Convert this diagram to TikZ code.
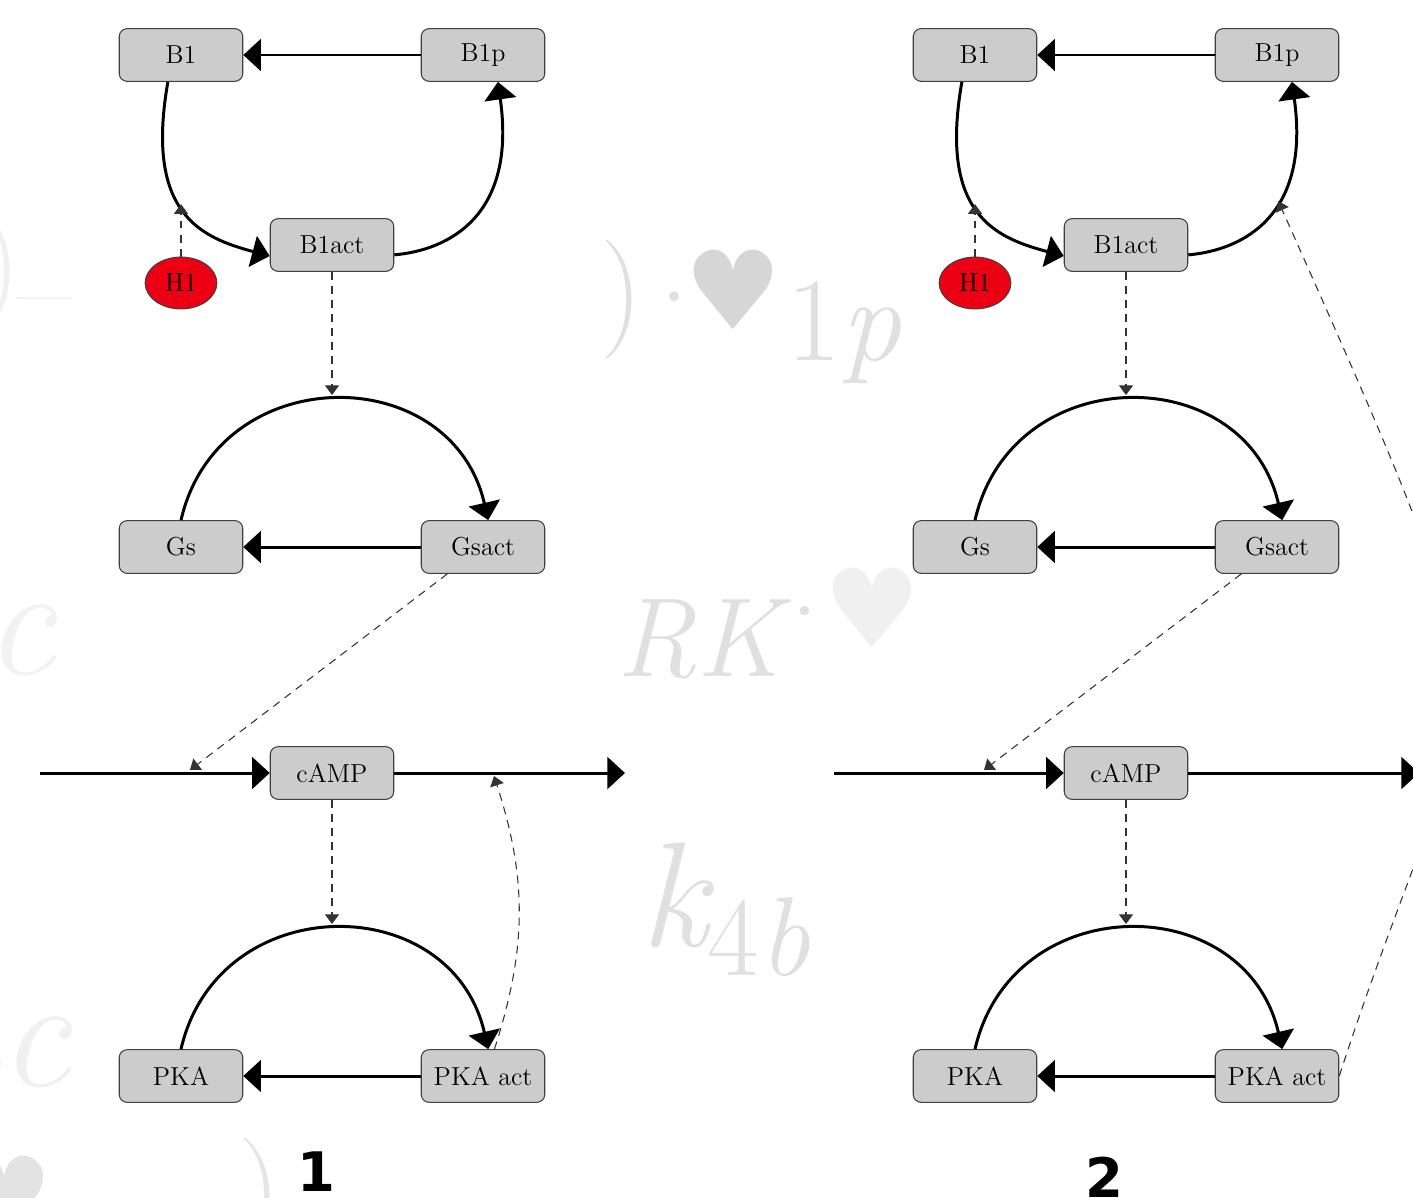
\documentclass[tikz,border=0pt]{standalone}
\usepackage{fontspec}
\newfontfamily\labelfont{DejaVu Sans}
\newfontfamily\heartfont{DejaVu Sans}
\usetikzlibrary{arrows.meta,shapes.geometric}

\definecolor{boxgray}{RGB}{204,204,204}
\definecolor{hred}{RGB}{236,0,20}
\newcommand\spfont{\fontsize{14.8}{17}\selectfont}

\tikzset{
  species/.style={draw=black!75, line width=0.6pt, fill=boxgray,
    rounded corners=4.5pt, minimum width=70.3pt, minimum height=30pt,
    inner sep=0pt, font=\spfont},
  hormone/.style={ellipse, draw=black!75, line width=0.6pt, fill=hred,
    minimum width=40.8pt, minimum height=29.5pt, inner sep=0pt, font=\spfont},
  reaction/.style={line width=1.7pt, -{Triangle[length=10pt,width=18pt]}},
  modifier/.style={draw=black!80, line width=0.6pt,
    dash pattern=on 4.5pt off 3.5pt, -{Triangle[length=5.5pt,width=8pt]}},
  backtext/.style={text=black!12, inner sep=0pt},
  panellabel/.style={font=\labelfont\bfseries\fontsize{31}{31}\selectfont, inner sep=0pt},
}

\begin{document}
\begin{tikzpicture}[x=0.02cm,y=0.02cm]
\useasboundingbox (0,0) rectangle (1413,-1197);
\clip (0,0) rectangle (1413,-1197);
\fill[white] (0,0) rectangle (1413,-1197);

% faint formula fragments in the background
\node[backtext, font=\fontsize{68}{68}\selectfont] (bgparen) at (622,-300) {)};
\node[backtext, font=\fontsize{68}{68}\selectfont] (bgdota) at (675,-315) {·};
\node[backtext, text=black!16, font=\heartfont\fontsize{62}{62}\selectfont] (bgheart) at (733,-290) {♥};
\node[backtext, anchor=base west, font=\fontsize{68}{68}\selectfont] (bgsub) at (786,-360) {1\itshape p};
\node[backtext, anchor=base west, font=\itshape\fontsize{64}{64}\selectfont] (bgrk) at (616,-676) {RK};
\node[backtext, font=\fontsize{64}{64}\selectfont] (bgdotb) at (805,-628) {·};
\node[backtext, text=black!6, font=\heartfont\fontsize{62}{62}\selectfont] (bgheartb) at (872,-608) {♥};
\node[backtext, anchor=base west, font=\fontsize{85}{85}\selectfont] (bgk) at (640,-946)
  {\itshape k\raisebox{-0.2em}{\fontsize{64}{64}\selectfont\upshape 4\itshape b}};
\node[backtext, text=black!6, font=\fontsize{68}{68}\selectfont] (bgparenl) at (0,-272) {)};
\node[backtext, text=black!6, font=\fontsize{68}{68}\selectfont] (bgdash) at (45,-314) {–};
\node[backtext, text=black!5, anchor=base west, font=\itshape\fontsize{90}{90}\selectfont] (bgaca) at (-95,-674) {ac};
\node[backtext, text=black!6, anchor=base west, font=\itshape\fontsize{90}{90}\selectfont] (bgacb) at (-80,-1086) {ac};
\node[backtext, text=black!10, font=\fontsize{68}{68}\selectfont] (bgparenb) at (260,-1198) {)};
\node[backtext, text=black!11, font=\heartfont\fontsize{62}{62}\selectfont] (bgheartc) at (4,-1196) {♥};

% the two panels share the same reaction network
\foreach \p/\dx in {1/0,2/794}{
  \begin{scope}[shift={(\dx,0)}]
    \node[species] (b1-\p)     at (181,-55)   {B1};
    \node[species] (b1p-\p)    at (483,-55)   {B1p};
    \node[species] (b1act-\p)  at (332,-245)  {B1act};
    \node[hormone] (h1-\p)     at (181,-283)  {H1};
    \node[species] (gs-\p)     at (181,-547)  {Gs};
    \node[species] (gsact-\p)  at (483,-547)  {Gsact};
    \node[species] (camp-\p)   at (332,-773)  {cAMP};
    \node[species] (pka-\p)    at (181,-1076) {PKA};
    \node[species] (pkaact-\p) at (483,-1076) {PKA act};
    \coordinate (lin-\p)  at (40,-773);
    \coordinate (lout-\p) at (625,-773);
    \coordinate (lhit-\p) at (190,-770);
    \coordinate (rhit-\p) at (494,-776);
    \coordinate (gtop-\p) at (332,-395);
    \coordinate (ptop-\p) at (332,-924);
  \end{scope}

  % B1 cycle
  \draw[reaction] (b1p-\p) -- (b1-\p);
  \draw[reaction] (b1-\p.244) .. controls +(-100:135) and +(165:70) .. (b1act-\p.190)
    coordinate[pos=0.45] (h1t-\p);
  \draw[reaction] (b1act-\p.-9) .. controls +(5:55) and +(-82:135) .. (b1p-\p.-61)
    coordinate[pos=0.59] (arc-\p);
  \draw[modifier] (h1-\p.north) -- (h1-\p.north |- h1t-\p);
  \draw[modifier] (b1act-\p) -- (gtop-\p);

  % Gs cycle
  \draw[reaction] (gs-\p.north) .. controls +(77:165) and +(103:165) .. (gsact-\p.79);
  \draw[reaction] (gsact-\p) -- (gs-\p);
  \draw[modifier] (gsact-\p.217) -- (lhit-\p);

  % cAMP production and degradation
  \draw[reaction] (lin-\p) -- (camp-\p);
  \draw[reaction] (camp-\p) -- (lout-\p);
  \draw[modifier] (camp-\p) -- (ptop-\p);

  % PKA cycle
  \draw[reaction] (pka-\p.north) .. controls +(77:165) and +(103:165) .. (pkaact-\p.79);
  \draw[reaction] (pkaact-\p) -- (pka-\p);
}

% panel-specific feedback
\draw[modifier] (pkaact-1.67) to[out=72,in=-72] (rhit-1);
\draw[modifier] (pkaact-2.east) .. controls +(72:450) and +(-66:620) .. (arc-2);

\node[panellabel] (lab1) at (316,-1172) {1};
\node[panellabel] (lab2) at (1104,-1177) {2};
\end{tikzpicture}
\end{document}
